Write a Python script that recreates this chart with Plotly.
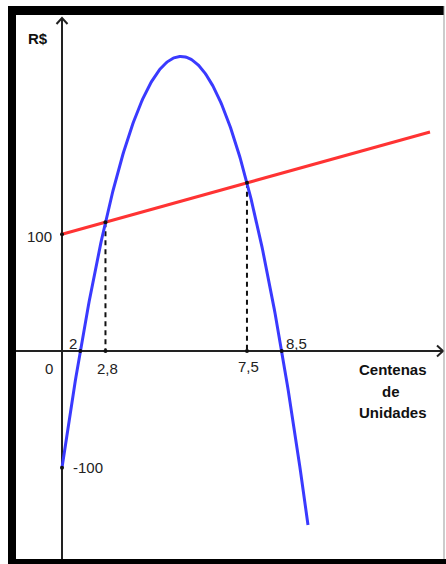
import numpy as np
import plotly.graph_objects as go

# ---------------- data (schematic chart) ----------------
# x is a schematic position along the "Centenas de Unidades" axis, y is in R$
revenue_roots = [18.3, 219.7]        # where the blue curve crosses the axis ("2" and "8,5")
revenue_intercept = -100             # blue curve at x = 0
revenue_x_end = 246                  # last drawn point of the blue curve
cost_x = [0, 368]                    # red line end points
cost_y = [100, 187.5]
x_tick_labels = ["2", "2,8", "7,5", "8,5"]
y_tick_labels = ["100", "-100"]
axis_title_y = "R$"
axis_title_x = ["Centenas", "de", "Unidades"]

# ---------------- geometry helpers (layout only) ----------------
W, H = 446, 564
OX, OY = 62, 351          # pixel position of the origin
SY = 1.168                # pixels per R$
x_range = [-OX, W - OX]
y_range = [(OY - H) / SY, OY / SY]


def X(px):
    return px - OX


def Y(py):
    return (OY - py) / SY


def PX(px):
    return px / W


def PY(py):
    return 1 - py / H


# ---------------- derived curves ----------------
r1, r2 = revenue_roots
P, S = r1 * r2, r1 + r2
xs = np.linspace(0, revenue_x_end, 300)
rev = revenue_intercept * (xs - r1) * (xs - r2) / P
m = (cost_y[1] - cost_y[0]) / (cost_x[1] - cost_x[0])
a = revenue_intercept / P
b = -revenue_intercept * S / P - m
c = revenue_intercept - cost_y[0]
inter = sorted(np.real(np.roots([a, b, c])))
inter_y = [cost_y[0] + m * t for t in inter]

fig = go.Figure()

# dashed drop lines
for t, v in zip(inter, inter_y):
    fig.add_trace(go.Scatter(x=[t, t], y=[v, 0], mode="lines",
                             line=dict(color="#111", width=2, dash="5px,4px"),
                             hoverinfo="skip"))

# axes (drawn as lines)
axis_col = "#222"
fig.add_trace(go.Scatter(x=[X(16), X(443)], y=[0, 0], mode="lines",
                         line=dict(color=axis_col, width=2), hoverinfo="skip"))
fig.add_trace(go.Scatter(x=[0, 0], y=[Y(564), Y(18)], mode="lines",
                         line=dict(color=axis_col, width=2), hoverinfo="skip"))
# arrow heads
fig.add_trace(go.Scatter(x=[X(56.5), X(62), X(67.5)], y=[Y(24), Y(18), Y(24)], mode="lines",
                         line=dict(color=axis_col, width=2), hoverinfo="skip"))
fig.add_trace(go.Scatter(x=[X(437), X(443), X(437)], y=[Y(345.5), Y(351), Y(356.5)], mode="lines",
                         line=dict(color=axis_col, width=2), hoverinfo="skip"))

# curves
fig.add_trace(go.Scatter(x=cost_x, y=cost_y, mode="lines",
                         line=dict(color="#ff3333", width=3), hoverinfo="skip"))
fig.add_trace(go.Scatter(x=xs, y=rev, mode="lines",
                         line=dict(color="#3a3aff", width=3), hoverinfo="skip"))

# points
pts_x = [0, 0, inter[0], inter[1], r1, inter[0], inter[1], r2]
pts_y = [cost_y[0], revenue_intercept, inter_y[0], inter_y[1], 0, 0, 0, 0]
fig.add_trace(go.Scatter(x=pts_x, y=pts_y, mode="markers",
                         marker=dict(color="#111", size=4), hoverinfo="skip"))

font = dict(family="Arial, Liberation Sans, sans-serif", size=15, color="#222")
bold = dict(family="Arial, Liberation Sans, sans-serif", size=15, color="#111")

ann = []


def txt(text, px, py, f=font, xa="center"):
    ann.append(dict(text=text, x=X(px), y=Y(py), xref="x", yref="y", showarrow=False,
                    font=f, xanchor=xa, yanchor="middle"))


txt("<b>" + axis_title_y + "</b>", 38, 38, bold)
txt(y_tick_labels[0], 54, 236, font, "right")
txt(y_tick_labels[1], 71, 467, font, "left")
txt("0", 49, 368)
txt(x_tick_labels[0], 73, 343)
txt(x_tick_labels[1], 107, 368)
txt(x_tick_labels[2], 248, 366)
txt(x_tick_labels[3], 284, 343, font, "left")
txt("<b>" + axis_title_x[0] + "</b>", 393, 369, bold)
txt("<b>" + axis_title_x[1] + "</b>", 391, 391, bold)
txt("<b>" + axis_title_x[2] + "</b>", 393, 412, bold)

# frame
shapes = [
    dict(type="rect", xref="paper", yref="paper", x0=PX(8), x1=PX(444), y0=PY(6), y1=PY(15),
         fillcolor="black", line=dict(width=0)),
    dict(type="rect", xref="paper", yref="paper", x0=PX(8), x1=PX(16), y0=PY(6), y1=PY(564),
         fillcolor="black", line=dict(width=0)),
    dict(type="rect", xref="paper", yref="paper", x0=PX(8), x1=PX(446), y0=PY(559), y1=PY(564),
         fillcolor="black", line=dict(width=0)),
    dict(type="line", xref="paper", yref="paper", x0=PX(444), x1=PX(444), y0=PY(6), y1=PY(559),
         line=dict(color="#999", width=1)),
]

fig.update_layout(
    width=W, height=H, autosize=False,
    margin=dict(l=0, r=0, t=0, b=0, pad=0),
    paper_bgcolor="white", plot_bgcolor="white",
    showlegend=False,
    xaxis=dict(range=x_range, visible=False, fixedrange=True),
    yaxis=dict(range=y_range, visible=False, fixedrange=True),
    annotations=ann, shapes=shapes,
)

fig.write_html("out.html", config={"displayModeBar": False, "staticPlot": True},
               post_script="document.body.style.margin='0';document.body.style.overflow='hidden';")
